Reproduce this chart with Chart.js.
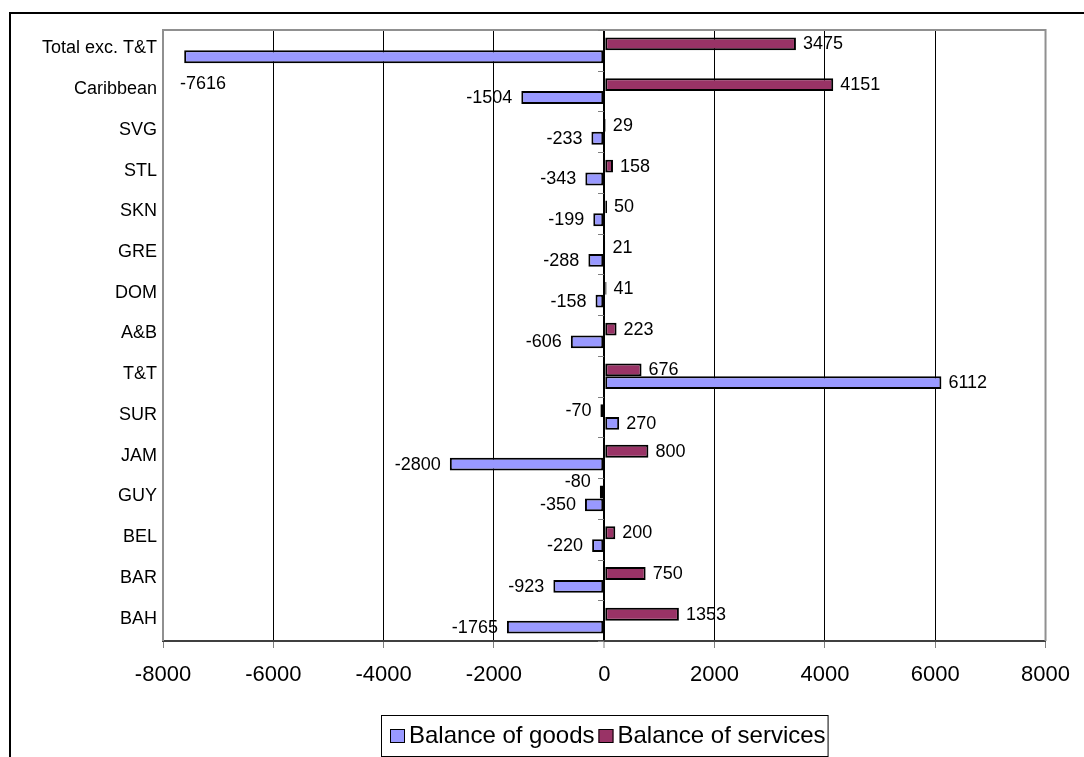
<!DOCTYPE html>
<html>
<head>
<meta charset="utf-8">
<script src="https://cdn.jsdelivr.net/npm/chart.js@4/dist/chart.umd.min.js"></script>
<style>
  html, body { margin: 0; padding: 0; background: #fff; }
  #wrap { position: relative; width: 1084px; height: 757px; }
</style>
</head>
<body>
<div id="wrap"><canvas id="c" width="1084" height="757"></canvas></div>
<script>
// Balance of goods and services by economy
const categories = ['Total exc. T&T', 'Caribbean', 'SVG', 'STL', 'SKN', 'GRE', 'DOM', 'A&B', 'T&T', 'SUR', 'JAM', 'GUY', 'BEL', 'BAR', 'BAH'];
const balanceOfGoods    = [-7616, -1504, -233, -343, -199, -288, -158, -606, 6112, 270, -2800, -350, -220, -923, -1765];
const balanceOfServices = [3475, 4151, 29, 158, 50, 21, 41, 223, 676, -70, 800, -80, 200, 750, 1353];
const xTicks = [-8000, -6000, -4000, -2000, 0, 2000, 4000, 6000, 8000];

const FONT = '"Liberation Sans", Arial, Helvetica, sans-serif';
Chart.defaults.font.family = FONT;
Chart.defaults.color = '#000';

// White page with a heavy frame running off the right and bottom edges
const pageFrame = {
  id: 'pageFrame',
  beforeDraw(chart) {
    const ctx = chart.ctx;
    ctx.save();
    ctx.fillStyle = '#fff';
    ctx.fillRect(0, 0, chart.width, chart.height);
    ctx.strokeStyle = '#000';
    ctx.lineWidth = 2;
    ctx.strokeRect(10, 13, 3000, 3000);
    ctx.restore();
  }
};

// Grey plot frame (top, left, right) and the short category ticks on the zero line
const plotFrame = {
  id: 'plotFrame',
  afterDatasetsDraw(chart) {
    const ctx = chart.ctx;
    const a = chart.chartArea;
    const ys = chart.scales.y;
    const zx = Math.round(chart.scales.x.getPixelForValue(0));
    ctx.save();
    ctx.strokeStyle = '#909090';
    ctx.lineWidth = 2;
    ctx.beginPath();
    ctx.moveTo(a.left, a.bottom);
    ctx.lineTo(a.left, a.top);
    ctx.lineTo(a.right, a.top);
    ctx.lineTo(a.right, a.bottom);
    ctx.stroke();
    ctx.lineWidth = 1;
    ctx.strokeStyle = '#808080';
    const n = categories.length;
    const step = (ys.getPixelForValue(n - 1) - ys.getPixelForValue(0)) / (n - 1);
    for (let i = 0; i <= n; i++) {
      const y = Math.round(ys.getPixelForValue(i) - step / 2) + 0.5;
      ctx.beginPath();
      ctx.moveTo(zx - 6, y);
      ctx.lineTo(zx, y);
      ctx.stroke();
    }
    ctx.restore();
  }
};

// Value labels at the outer end of every bar
const valueLabels = {
  id: 'valueLabels',
  afterDatasetsDraw(chart) {
    const ctx = chart.ctx;
    const a = chart.chartArea;
    ctx.save();
    ctx.font = '18px ' + FONT;
    ctx.fillStyle = '#000';
    ctx.textBaseline = 'middle';
    const perCategory = categories.map(() => []);
    chart.data.datasets.forEach((ds, di) => {
      const meta = chart.getDatasetMeta(di);
      meta.data.forEach((bar, i) => {
        const v = ds.data[i];
        const text = String(v);
        const w = ctx.measureText(text).width;
        let x, y = bar.y + 0.5, align, x0, x1;
        if (v >= 0) {
          x = bar.x + 7; align = 'left';
        } else {
          x = bar.x - 9; align = 'right';
          if (x - w < a.left) {
            // no room on the left: tuck the label under the bar
            x = a.left + 17; align = 'left'; y = bar.y + bar.height * 2.1;
          }
        }
        if (align === 'left') { x0 = x; x1 = x + w; } else { x0 = x - w; x1 = x; }
        perCategory[i].push({ text, x, y, align, x0, x1 });
      });
    });
    perCategory.forEach(list => {
      // keep two labels of one category from sitting on top of each other
      if (list.length === 2) {
        const [up, down] = list;
        const overlapX = Math.min(up.x1, down.x1) - Math.max(up.x0, down.x0);
        if (overlapX > 0 && Math.abs(down.y - up.y) < 18) up.y -= 10;
      }
      list.forEach(l => {
        ctx.textAlign = l.align;
        ctx.fillText(l.text, l.x, l.y);
      });
    });
    ctx.restore();
  }
};

// Boxed legend under the axis
const boxLegend = {
  id: 'boxLegend',
  afterDraw(chart) {
    const ctx = chart.ctx;
    const a = chart.chartArea;
    const items = chart.data.datasets.slice().reverse();
    ctx.save();
    ctx.font = '24px ' + FONT;
    const sw = 15, sh = 14, gapText = 4, gapItem = 4, padL = 9, padR = 2;
    const widths = items.map(d => ctx.measureText(d.label).width);
    let total = padL + padR + gapItem * (items.length - 1);
    widths.forEach(w => { total += sw + gapText + w; });
    const left = Math.round((a.left + a.right) / 2 - total / 2);
    const top = 715, h = 41;
    ctx.strokeStyle = '#000';
    ctx.lineWidth = 1;
    ctx.strokeRect(left + 0.5, top + 0.5, total, h);
    let x = left + padL;
    const cy = top + h / 2 + 0.5;
    ctx.textBaseline = 'middle';
    ctx.textAlign = 'left';
    items.forEach((d, i) => {
      ctx.fillStyle = d.backgroundColor;
      ctx.fillRect(x, Math.round(cy - sh / 2), sw, sh);
      ctx.strokeStyle = '#000';
      ctx.strokeRect(x + 0.5, Math.round(cy - sh / 2) + 0.5, sw - 1, sh - 1);
      x += sw + gapText;
      ctx.fillStyle = '#000';
      ctx.fillText(d.label, x, cy);
      x += widths[i] + gapItem;
    });
    ctx.restore();
  }
};

new Chart(document.getElementById('c'), {
  type: 'bar',
  data: {
    labels: categories,
    datasets: [
      {
        label: 'Balance of services',
        data: balanceOfServices,
        backgroundColor: '#993366',
        borderColor: '#000',
        borderWidth: 2,
        borderSkipped: false
      },
      {
        label: 'Balance of goods',
        data: balanceOfGoods,
        backgroundColor: '#9999FF',
        borderColor: '#000',
        borderWidth: 2,
        borderSkipped: false
      }
    ]
  },
  options: {
    indexAxis: 'y',
    responsive: false,
    animation: false,
    devicePixelRatio: 1,
    categoryPercentage: 0.63,
    barPercentage: 1,
    layout: { padding: { top: 30, right: 36, left: 0, bottom: 0 } },
    plugins: {
      legend: { display: false },
      tooltip: { enabled: false }
    },
    scales: {
      x: {
        type: 'linear',
        min: -8000,
        max: 8000,
        afterBuildTicks: s => { s.ticks = xTicks.map(v => ({ value: v })); },
        afterFit: s => { s.height = 116; },
        ticks: {
          font: { size: 22 },
          color: '#000',
          padding: 14,
          maxRotation: 0,
          autoSkip: false,
          callback: v => String(v)
        },
        grid: {
          color: c => (c.tick && Math.abs(c.tick.value) === 8000) ? 'rgba(0,0,0,0)' : '#000',
          lineWidth: c => (c.tick && c.tick.value === 0) ? 2 : 1,
          tickLength: 7,
          tickColor: '#808080',
          tickWidth: 1
        },
        border: { display: true, color: '#404040', width: 2 }
      },
      y: {
        type: 'category',
        offset: true,
        afterFit: s => { s.width = 163; },
        ticks: {
          font: { size: 18 },
          color: '#000',
          padding: 6,
          labelOffset: -2,
          autoSkip: false
        },
        grid: { display: false, drawTicks: false },
        border: { display: false }
      }
    }
  },
  plugins: [pageFrame, plotFrame, valueLabels, boxLegend]
});
</script>
</body>
</html>
